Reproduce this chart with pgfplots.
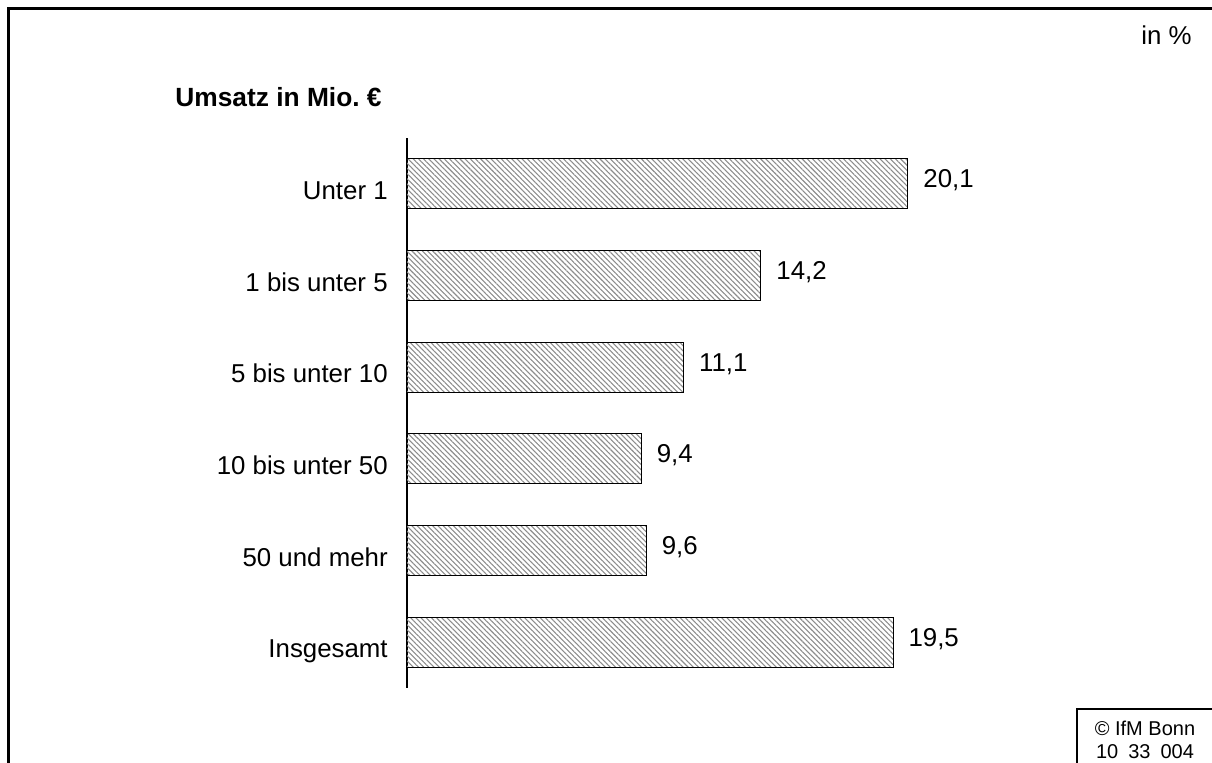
\documentclass[border=0pt]{standalone}
\usepackage{pgfplots}
\pgfplotsset{compat=1.18}
\usepackage{fontspec}
\setmainfont{Liberation Sans}
\usetikzlibrary{patterns.meta}
\frenchspacing
\begin{document}
\begin{tikzpicture}[x=0.6pt,y=0.6pt,font=\fontsize{15.5}{18}\selectfont]
\useasboundingbox (0,0) rectangle (1212,762);
\draw[line width=1.8pt] (8,-5) -- (8,753) -- (1217,753);
\node[anchor=base west,inner sep=0,font=\fontsize{15.8}{18}\selectfont\bfseries] at (175,655) {Umsatz in Mio.\ €};
\node[anchor=base east,inner sep=0] at (1192,717) {in \%};
\draw[line width=0.7pt] (1077,-5) -- (1077,53) -- (1217,53);
\node[anchor=base,inner sep=0,font=\fontsize{12}{14}\selectfont] at (1145,27) {© IfM Bonn};
\node[anchor=base,inner sep=0,font=\fontsize{12}{14}\selectfont] at (1145,4) {10\hspace{0.5em}33\hspace{0.5em}004};
\begin{axis}[
  at={(244.2pt,44.4pt)}, anchor=south west,
  scale only axis, width=300.6pt, height=330pt,
  xbar, bar width=30pt,
  xmin=0, xmax=20.1, ymin=-0.5, ymax=5.5,
  y dir=reverse,
  axis x line=none, axis y line*=left,
  y axis line style={line width=1pt},
  ytick={0,1,2,3,4,5},
  yticklabels={Unter 1,1 bis unter 5,5 bis unter 10,10 bis unter 50,50 und mehr,Insgesamt},
  major tick length=0pt,
  yticklabel style={anchor=base east, inner sep=0pt, xshift=-11.4pt, yshift=-9.3pt},
  nodes near coords,
  nodes near coords style={anchor=base west, inner sep=0pt, xshift=9pt, yshift=-2.4pt,
    /pgf/number format/.cd, use comma, fixed, fixed zerofill, precision=1, assume math mode=true},
  clip=false,
]
\addplot[draw=black, line width=0.6pt, pattern={Lines[angle=-45,distance=2.2pt,line width=0.65pt]}, pattern color=black!45]
  coordinates {(20.1,0) (14.2,1) (11.1,2) (9.4,3) (9.6,4) (19.5,5)};
\end{axis}
\end{tikzpicture}
\end{document}
